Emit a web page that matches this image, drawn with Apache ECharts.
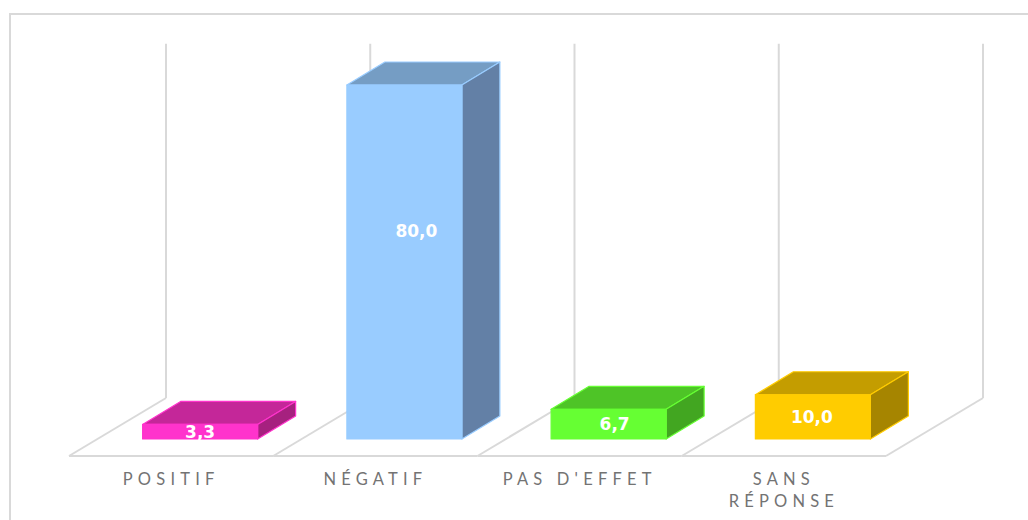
<!DOCTYPE html>
<html>
<head>
<meta charset="utf-8">
<style>
html,body{margin:0;padding:0;background:#fff;}
#c{position:absolute;left:0;top:0;width:1028px;height:520px;}
#c text[fill="#737373"]{letter-spacing:5.2px;}
</style>
<script src="https://cdn.jsdelivr.net/npm/echarts@6/dist/echarts.min.js"></script>
</head>
<body>
<div id="c"></div>
<script>
var categories = ['POSITIF', 'NÉGATIF', "PAS D'EFFET", 'SANS\nRÉPONSE'];
var values = [3.3, 80.0, 6.7, 10.0];
var frontColors = ['#ff33cc', '#99ccff', '#66ff33', '#ffcc00'];
var topColors = ['#c42799', '#759dc4', '#4ec427', '#c49d00'];
var sideColors = ['#a6217f', '#6380a6', '#42a621', '#a68500'];
var wallTopValue = 89.3;

var barWidthFraction = 115 / 204.25;
var barShift = 29, floorFrontDrop = 17;
var floorDepthX = 97, floorDepthY = 58;
var barDepthX = 38, barDepthY = 23;
var labelNudgeX = [0, 12, 6, -1];
var labelNudgeY = [0, -31, 0, 0];
var wallColor = '#d9d9d9';

function frameItem(params, api) {
  var i = api.value(0);
  var halfBand = api.size([1, 0])[0] / 2;
  var base = api.coord([i, 0]);
  var topP = api.coord([i, wallTopValue]);
  var fx = base[0] - halfBand, fy = base[1] + floorFrontDrop;
  var line = function (x1, y1, x2, y2) {
    return { type: 'line', shape: { x1: x1, y1: y1, x2: x2, y2: y2 },
      style: { stroke: wallColor, lineWidth: 2 } };
  };
  var wy = fy - floorDepthY;
  var kids = [
    line(fx, fy, fx + 2 * halfBand, fy),
    line(fx, fy, fx + floorDepthX, wy),
    line(fx + floorDepthX, wy, fx + floorDepthX, topP[1])
  ];
  if (i === categories.length - 1) {
    var rx = fx + 2 * halfBand;
    kids.push(line(rx, fy, rx + floorDepthX, wy));
    kids.push(line(rx + floorDepthX, wy, rx + floorDepthX, topP[1]));
  }
  return { type: 'group', children: kids };
}

function barItem(params, api) {
  var i = api.value(0), v = api.value(1);
  var band = api.size([1, 0])[0];
  var w = band * barWidthFraction;
  var p0 = api.coord([i, 0]), p1 = api.coord([i, v]);
  var l = p0[0] - w / 2 + barShift, r = l + w;
  var b = p0[1], t = p1[1];
  var dx = barDepthX, dy = barDepthY;
  var edge = frontColors[i];
  var poly = function (pts, fill) {
    return { type: 'polygon', shape: { points: pts },
      style: { fill: fill, stroke: edge, lineWidth: 1.2, lineJoin: 'round' } };
  };
  return { type: 'group', children: [
    poly([[l, t], [r, t], [r + dx, t - dy], [l + dx, t - dy]], topColors[i]),
    poly([[r, t], [r + dx, t - dy], [r + dx, b - dy], [r, b]], sideColors[i]),
    poly([[l, t], [r, t], [r, b], [l, b]], frontColors[i]),
    { type: 'text', style: {
        text: v.toFixed(1).replace('.', ','),
        x: (l + r) / 2 + labelNudgeX[i], y: (t + b) / 2 + labelNudgeY[i],
        align: 'center', verticalAlign: 'middle',
        fill: '#ffffff', font: 'bold 17px "DejaVu Sans", sans-serif' } }
  ] };
}

var chart = echarts.init(document.getElementById('c'), null, { renderer: 'svg' });
chart.setOption({
  animation: false,
  backgroundColor: '#fff',
  grid: { left: 69, width: 817, top: 85 - 9.3 * 354 / 80, bottom: 81, containLabel: false },
  xAxis: {
    type: 'category', data: categories,
    axisLine: { show: false }, axisTick: { show: false }, splitLine: { show: false },
    axisLabel: { margin: 29, color: '#737373', fontSize: 16.5, lineHeight: 22,
      fontFamily: 'Lato, sans-serif', interval: 0 }
  },
  yAxis: { type: 'value', min: 0, max: 89.3, show: false },
  graphic: [{ type: 'rect', silent: true, z: -1,
    shape: { x: 10, y: 14, width: 1030, height: 520 },
    style: { fill: 'none', stroke: wallColor, lineWidth: 2 } }],
  series: [
    { type: 'custom', renderItem: frameItem, silent: true, z: 1,
      data: categories.map(function (c, i) { return [i, 0]; }) },
    { type: 'custom', renderItem: barItem, z: 2,
      data: values.map(function (v, i) { return [i, v]; }) }
  ]
});
</script>
</body>
</html>
